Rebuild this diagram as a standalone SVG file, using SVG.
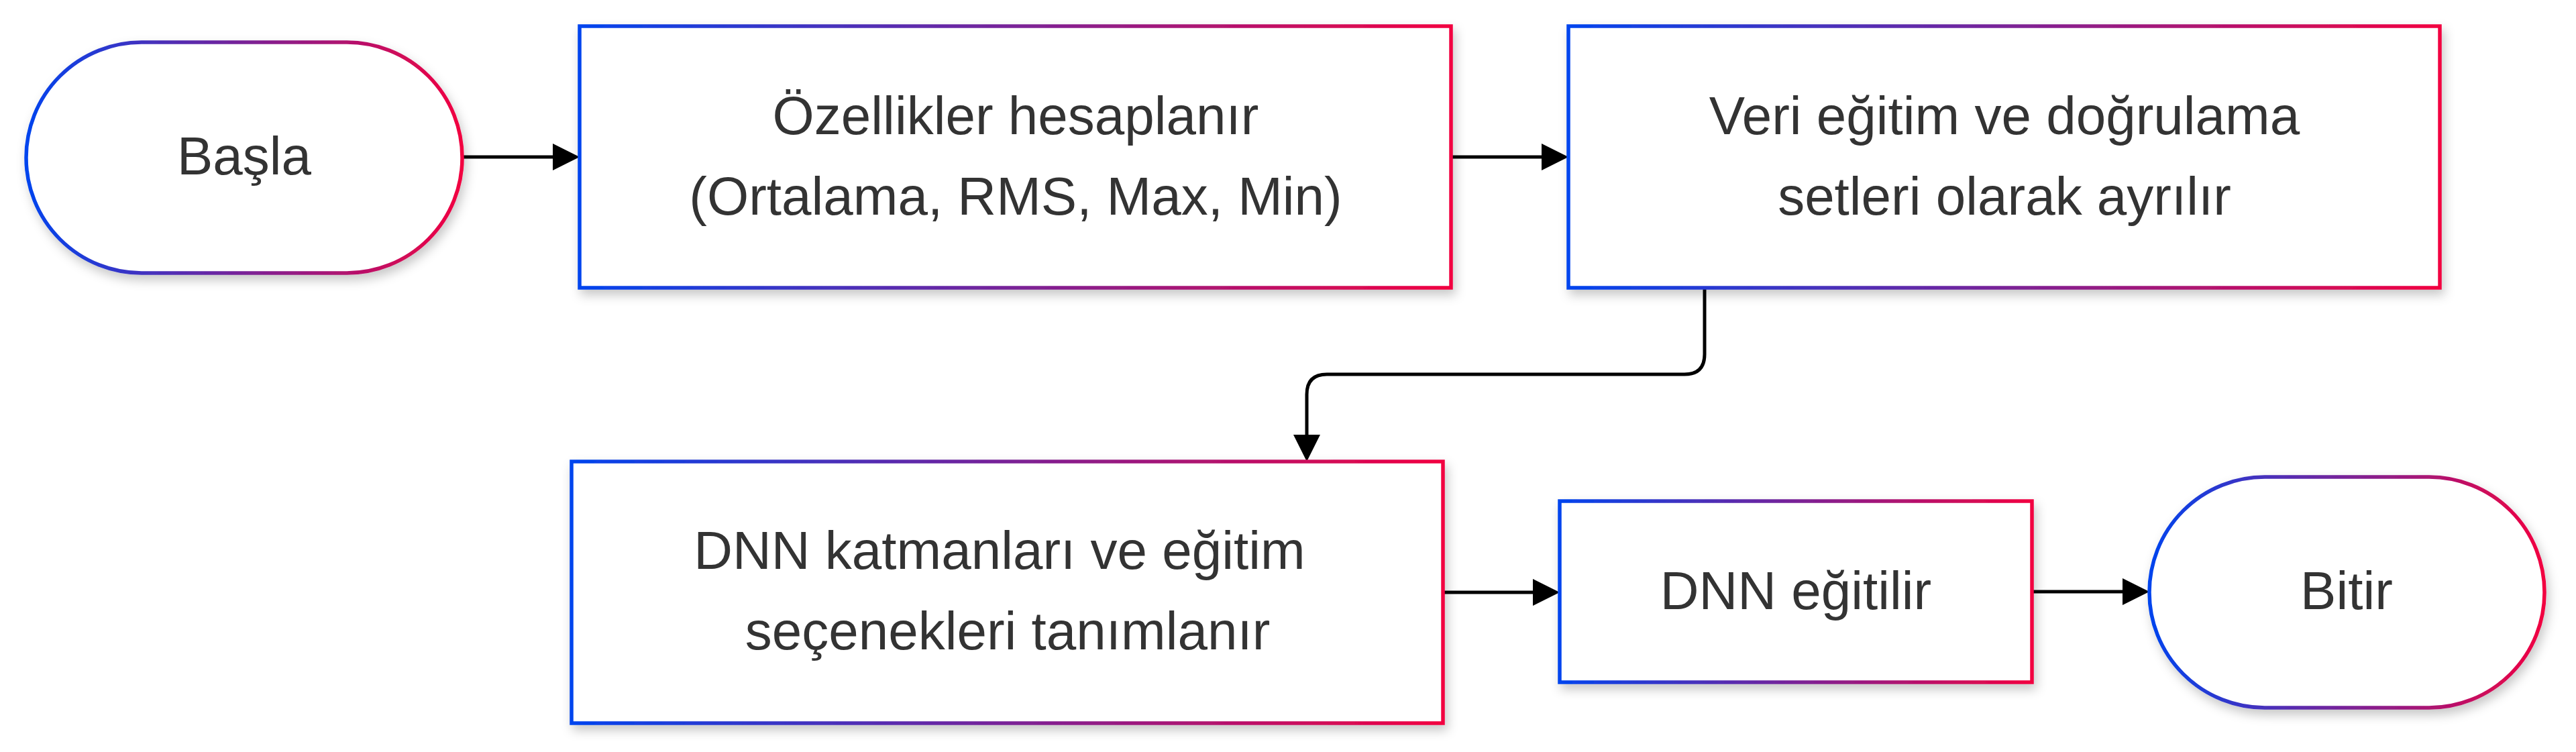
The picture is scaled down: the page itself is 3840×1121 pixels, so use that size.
<svg xmlns="http://www.w3.org/2000/svg" width="3840" height="1121" viewBox="0 0 3840 1121">
  <defs>
    <linearGradient id="edgeGrad" x1="0" y1="0" x2="1" y2="0">
      <stop offset="0" stop-color="#0044ee"/>
      <stop offset="1" stop-color="#f20040"/>
    </linearGradient>
    <filter id="shadow" x="-10%" y="-10%" width="125%" height="130%">
      <feDropShadow dx="4" dy="8" stdDeviation="8" flood-color="#000000" flood-opacity="0.22"/>
    </filter>
    <marker id="arrow" viewBox="0 0 10 10" refX="0" refY="5" markerWidth="40" markerHeight="41" markerUnits="userSpaceOnUse" orient="auto">
      <path d="M0,0 L10,5 L0,10 z" fill="#000000"/>
    </marker>
  </defs>
  <style>
    .node { fill: #ffffff; stroke: url(#edgeGrad); stroke-width: 5.5; filter: url(#shadow); }
    .label { font-family: "Liberation Sans", Arial, sans-serif; font-size: 80px; fill: #333333; text-anchor: middle; }
    .edge { fill: none; stroke: #000000; stroke-width: 5; marker-end: url(#arrow); }
  </style>
  <rect width="3840" height="1121" fill="#ffffff"/>

  <g id="edges">
    <path class="edge" d="M689,234 L824,234"/>
    <path class="edge" d="M2163,234 L2298,234"/>
    <path class="edge" d="M2541,429 L2541,528 Q2541,558 2511,558 L1978,558 Q1948,558 1948,588 L1948,648"/>
    <path class="edge" d="M2151,883 L2285,883"/>
    <path class="edge" d="M3029,882 L3164,882"/>
  </g>

  <g id="node-basla">
    <rect class="node" x="39" y="63" width="650" height="344" rx="172" ry="172"/>
    <text class="label" x="364" y="260">Başla</text>
  </g>

  <g id="node-ozellikler">
    <rect class="node" x="864" y="39" width="1299" height="390"/>
    <text class="label" x="1514" y="200">Özellikler hesaplanır</text>
    <text class="label" x="1514" y="320">(Ortalama, RMS, Max, Min)</text>
  </g>

  <g id="node-veri">
    <rect class="node" x="2338" y="39" width="1299" height="390"/>
    <text class="label" x="2988" y="200">Veri eğitim ve doğrulama</text>
    <text class="label" x="2988" y="320">setleri olarak ayrılır</text>
  </g>

  <g id="node-dnn-katman">
    <rect class="node" x="852" y="688" width="1299" height="390"/>
    <text class="label" x="1490" y="848">DNN katmanları ve eğitim</text>
    <text class="label" x="1502" y="968">seçenekleri tanımlanır</text>
  </g>

  <g id="node-dnn-egit">
    <rect class="node" x="2325" y="747" width="704" height="270"/>
    <text class="label" x="2677" y="908">DNN eğitilir</text>
  </g>

  <g id="node-bitir">
    <rect class="node" x="3204" y="711" width="589" height="344" rx="172" ry="172"/>
    <text class="label" x="3498" y="908">Bitir</text>
  </g>
</svg>
